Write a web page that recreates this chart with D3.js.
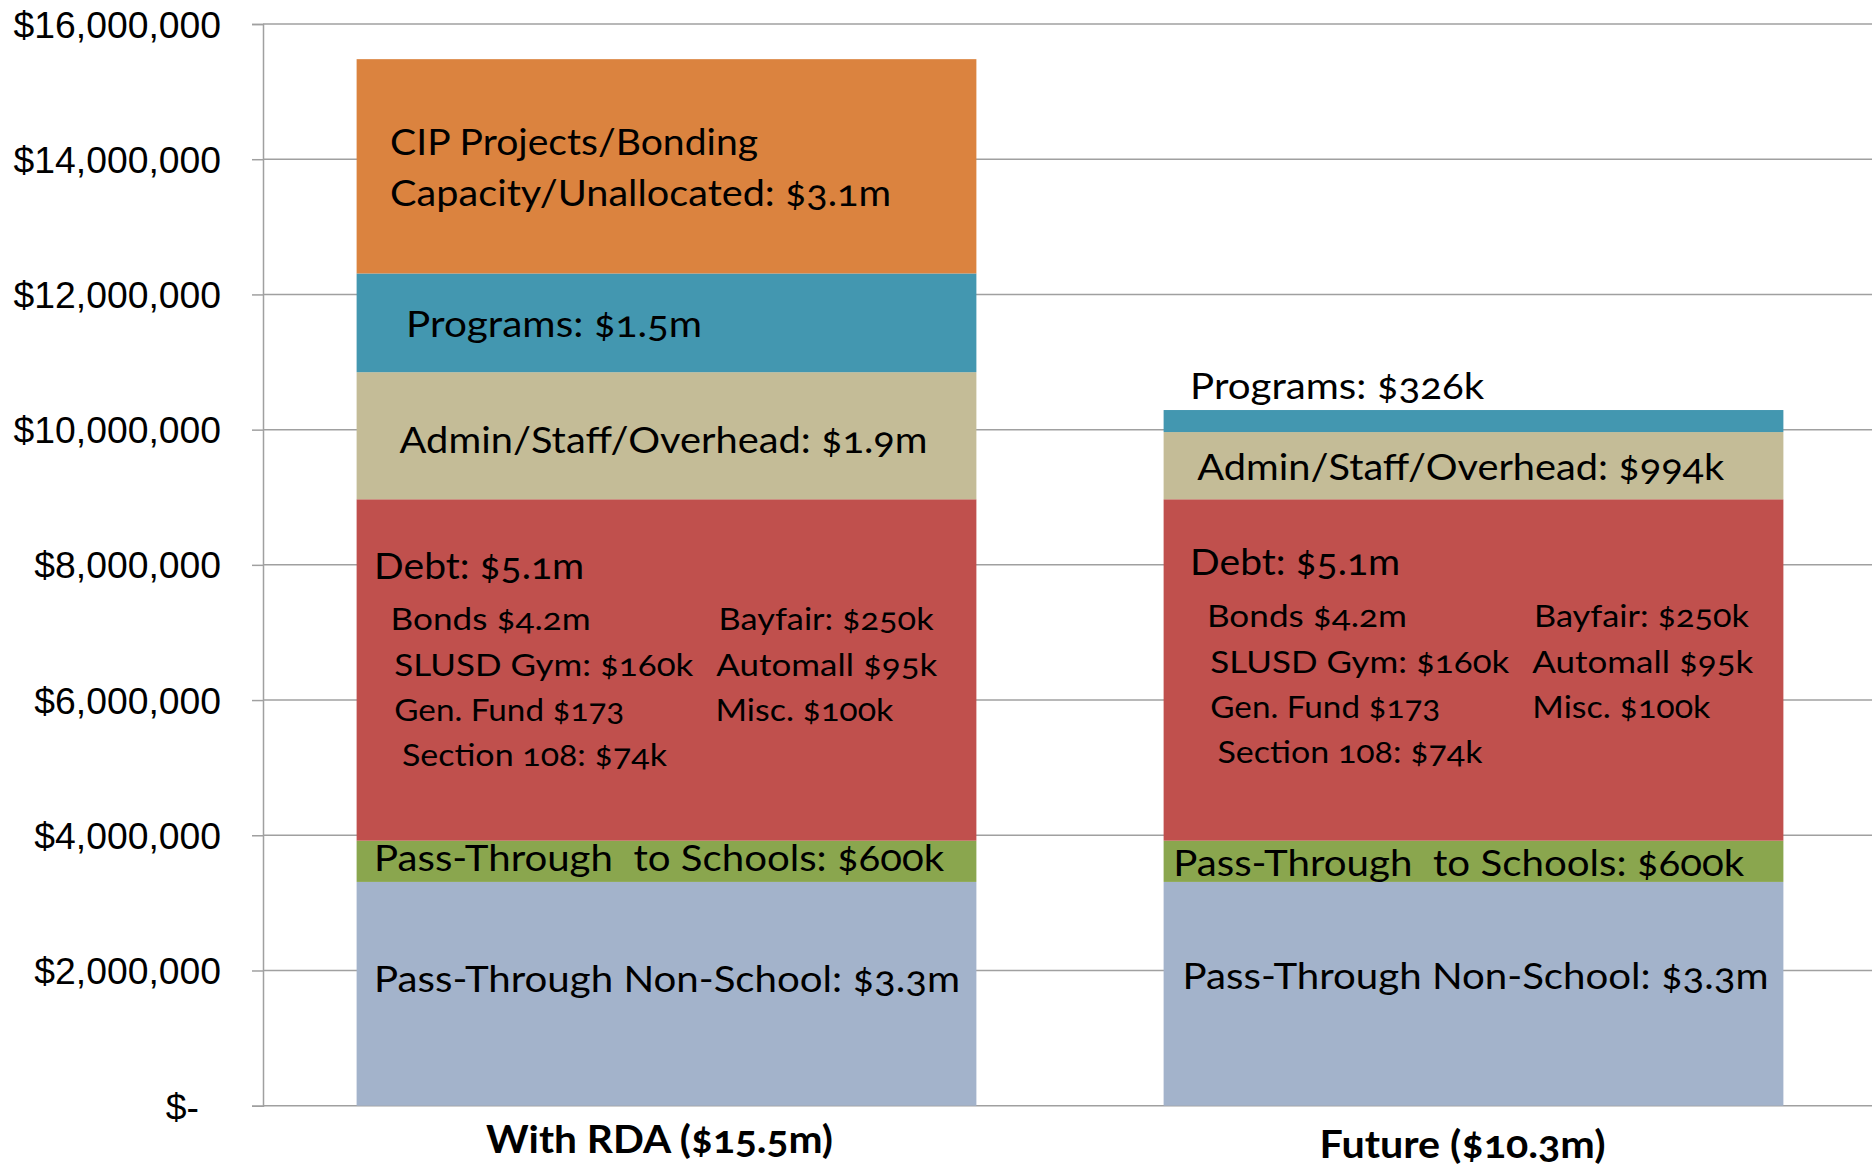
<!DOCTYPE html>
<html>
<head>
<meta charset="utf-8">
<script src="https://cdn.jsdelivr.net/npm/d3@7"></script>
<style>
  html, body { margin: 0; padding: 0; background: #fff; }
  svg { display: block; }
  .seg-label { font-family: Lato, "Open Sans", sans-serif; fill: #000; white-space: pre; font-variant-numeric: oldstyle-nums; }
  .cat-label { font-family: Lato, "Open Sans", sans-serif; font-weight: 700; fill: #000; font-variant-numeric: oldstyle-nums; }
  .y-axis text { font-family: "Liberation Sans", Arial, sans-serif; font-size: 37.3px; fill: #000; }
</style>
</head>
<body>
<svg id="chart" width="1872" height="1166"></svg>
<script>
// ===== DATA =====
const categories = ['With RDA ($15.5m)', 'Future ($10.3m)'];
const segments = ['Pass-Through Non-School', 'Pass-Through to Schools', 'Debt',
                  'Admin/Staff/Overhead', 'Programs', 'CIP Projects/Bonding Capacity/Unallocated'];
const withRdaValues = [3310000, 610000, 5050000, 1880000, 1460000, 3170000];
const futureValues  = [3310000, 610000, 5050000, 994000, 326000, 0];
const yTicks = [0, 2000000, 4000000, 6000000, 8000000, 10000000, 12000000, 14000000, 16000000];

const withRdaLabels = [
    ['Pass-Through Non-School: $3.3m'],
    ['Pass-Through  to Schools: $600k'],
    ['Debt: $5.1m', 'Bonds $4.2m', 'Bayfair: $250k', 'SLUSD Gym: $160k', 'Automall $95k',
     'Gen. Fund $173', 'Misc. $100k', 'Section 108: $74k'],
    ['Admin/Staff/Overhead: $1.9m'],
    ['Programs: $1.5m'],
    ['CIP Projects/Bonding', 'Capacity/Unallocated: $3.1m']
];
const futureLabels = [
    ['Pass-Through Non-School: $3.3m'],
    ['Pass-Through  to Schools: $600k'],
    ['Debt: $5.1m', 'Bonds $4.2m', 'Bayfair: $250k', 'SLUSD Gym: $160k', 'Automall $95k',
     'Gen. Fund $173', 'Misc. $100k', 'Section 108: $74k'],
    ['Admin/Staff/Overhead: $994k'],
    ['Programs: $326k'],
    []
];

// ===== LAYOUT (pixel offsets from bar left / segment top, font size, fitted width) =====
const debtLayout1 = [[17.5, 80, 36, 210], [34, 130.7, 31, 200], [362, 130.7, 31, 215],
    [37.7, 176.7, 31, 299], [359.7, 176.7, 31, 221], [37.7, 221.4, 31, 230],
    [358.8, 221.4, 31, 178], [45.3, 266.7, 31, 265]];
const debtLayout2 = [[26.5, 76, 36, 210], [43.3, 127.7, 31, 200], [370.4, 127.7, 31, 215],
    [46.7, 173.3, 31, 299], [368.7, 173.3, 31, 221], [46.7, 218.3, 31, 230],
    [368.7, 218.3, 31, 178], [53.9, 264, 31, 265]];
const withRdaLayout = [
    [[17.5, 110, 36, 586]],
    [[17.5, 30.8, 36, 570]],
    debtLayout1,
    [[43, 80.7, 36, 528]],
    [[49.5, 64, 36, 296]],
    [[33.5, 96, 36, 368], [33.5, 146.7, 36, 501]]
];
const futureLayout = [
    [[19, 106.6, 36, 586]],
    [[9.6, 35.3, 36, 571]],
    debtLayout2,
    [[33.7, 47.6, 36, 527]],
    [[26.5, -11.2, 36, 294]],
    []
];
const catLayout = [[-7, 1153, 38, 347], [-11, 1158, 38, 286]];

const colors = ['#A3B3CB', '#8AA64E', '#C0504D', '#C4BC97', '#4397B0', '#DB833F'];

// ===== CHART =====
const width = 1872, height = 1166;
const svg = d3.select('#chart');

const x = d3.scaleBand()
    .domain(categories)
    .range([263, 1877])
    .paddingInner(0.232)
    .paddingOuter(0.116);

const y = d3.scaleLinear()
    .domain([0, 16000000])
    .range([1105.7, 24]);

const gridColor = '#a0a0a0';

// gridlines
svg.append('g')
    .selectAll('line')
    .data(yTicks)
    .join('line')
    .attr('x1', 263)
    .attr('x2', width)
    .attr('y1', d => y(d))
    .attr('y2', d => y(d))
    .attr('stroke', gridColor)
    .attr('stroke-width', 1.5);

// y axis
const yAxisG = svg.append('g')
    .attr('class', 'y-axis')
    .attr('transform', 'translate(263,0)')
    .call(d3.axisLeft(y)
        .tickValues(yTicks)
        .tickSize(11)
        .tickPadding(31)
        .tickFormat(d => d === 0 ? '$-' : d3.format('$,')(d)));
yAxisG.select('.domain').attr('stroke', gridColor).attr('stroke-width', 1.5);
yAxisG.selectAll('.tick line').attr('stroke', gridColor).attr('stroke-width', 1.5);
yAxisG.selectAll('.tick text')
    .attr('dy', '0.35em')
    .filter(d => d === 0)
    .attr('x', -64)
    .attr('dy', '0.38em');

// stacked bars
const series = [withRdaValues, futureValues];
const stacked = series.map((vals, bi) => {
    let acc = 0;
    return vals.map((v, si) => {
        const d = { cat: categories[bi], seg: si, y0: acc, y1: acc + v };
        acc += v;
        return d;
    });
});

const barsG = svg.append('g');
stacked.forEach(rows => {
    barsG.selectAll(null)
        .data(rows.filter(d => d.y1 > d.y0))
        .join('rect')
        .attr('x', d => x(d.cat))
        .attr('width', x.bandwidth())
        .attr('y', d => y(d.y1))
        .attr('height', d => y(d.y0) - y(d.y1))
        .attr('fill', d => colors[d.seg]);
});

// segment labels
const allLabels = [withRdaLabels, futureLabels];
const allLayouts = [withRdaLayout, futureLayout];
const labelsG = svg.append('g');
stacked.forEach((rows, bi) => {
    rows.forEach(d => {
        const texts = allLabels[bi][d.seg];
        const lay = allLayouts[bi][d.seg];
        texts.forEach((t, i) => {
            const [dx, dy, fs, w] = lay[i];
            labelsG.append('text')
                .attr('class', 'seg-label')
                .attr('x', x(d.cat) + dx)
                .attr('y', y(d.y1) + dy)
                .style('font-size', fs + 'px')
                .attr('textLength', w)
                .attr('lengthAdjust', 'spacingAndGlyphs')
                .text(t);
        });
    });
});

// category axis
const xAxisG = svg.append('g')
    .attr('transform', `translate(0,${y(0)})`)
    .call(d3.axisBottom(x).tickSize(0));
xAxisG.select('.domain').remove();
xAxisG.selectAll('.tick text')
    .attr('class', 'cat-label')
    .attr('fill', '#000')
    .attr('dy', null)
    .attr('x', (d, i) => catLayout[i][0])
    .attr('y', (d, i) => catLayout[i][1] - y(0))
    .style('font-size', (d, i) => catLayout[i][2] + 'px')
    .attr('text-anchor', 'middle')
    .attr('textLength', (d, i) => catLayout[i][3])
    .attr('lengthAdjust', 'spacingAndGlyphs');
</script>
</body>
</html>
